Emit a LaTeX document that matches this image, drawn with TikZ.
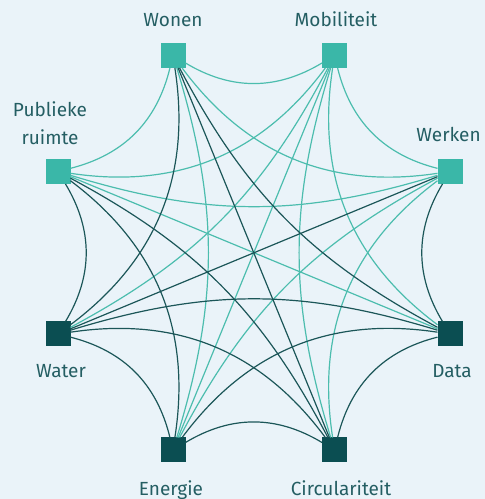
\documentclass[tikz,border=0pt]{standalone}
\usepackage{fontspec}
\setmainfont{Fira Sans}
\definecolor{bgcol}{HTML}{EAF3F9}
\definecolor{lightnode}{HTML}{3AB7A8}
\definecolor{darknode}{HTML}{0B4E52}
\definecolor{lightedge}{HTML}{4CBDAE}
\definecolor{darkedge}{HTML}{1B5658}
\definecolor{labelcol}{HTML}{245E63}
\begin{document}
\begin{tikzpicture}[x=1pt,y=1pt,
  box/.style={minimum size=25pt, inner sep=0pt, outer sep=0pt},
  topbox/.style={box, fill=lightnode},
  botbox/.style={box, fill=darknode},
  lbl/.style={text=labelcol, font=\fontsize{19}{28}\selectfont, anchor=base, inner sep=0pt},
  le/.style={draw=lightedge, line width=1.2pt},
  de/.style={draw=darkedge, line width=1.2pt},
  one/.style={bend right=31},
  three/.style={bend right=17}]
\fill[bgcol] (0,0) rectangle (485,499);
\useasboundingbox (0,0) rectangle (485,499);
% nodes
\node[topbox] (W) at (173,443.5) {};
\node[topbox] (M) at (334.5,443.5) {};
\node[topbox] (K) at (450,327.5) {};
\node[botbox] (D) at (450,165) {};
\node[botbox] (C) at (334.5,49) {};
\node[botbox] (E) at (173,49) {};
\node[botbox] (A) at (58,165) {};
\node[topbox] (P) at (58,327.5) {};
% light edges
\draw[le] (W) to[one] (M);
\draw[le] (M) to[one] (K);
\draw[le] (P) to[one] (W);
\draw[le] (W) to[one] (K);
\draw[le] (M) to[one] (D);
\draw[le] (K) to[one] (C);
\draw[le] (P) to[one] (M);
\draw[le] (M) to[three] (C);
\draw[le] (K) to[three] (E);
\draw[le] (E) to[three] (W);
\draw[le] (A) to[three] (M);
\draw[le] (P) to[three] (K);
\draw[le] (M) -- (E);
\draw[le] (D) -- (P);
% dark edges
\draw[de] (K) to[one] (D);
\draw[de] (D) to[one] (C);
\draw[de] (C) to[one] (E);
\draw[de] (E) to[one] (A);
\draw[de] (A) to[one] (P);
\draw[de] (D) to[one] (E);
\draw[de] (C) to[one] (A);
\draw[de] (E) to[one] (P);
\draw[de] (A) to[one] (W);
\draw[de] (W) to[three] (D);
\draw[de] (D) to[three] (A);
\draw[de] (C) to[three] (P);
\draw[de] (W) -- (C);
\draw[de] (K) -- (A);
% labels
\node[lbl] (lW) at (173,472.3) {Wonen};
\node[lbl] (lM) at (336,472.3) {Mobiliteit};
\node[lbl] (lK) at (448.5,357) {Werken};
\node[lbl] (lP1) at (50,382.3) {Publieke};
\node[lbl] (lP2) at (50,354) {ruimte};
\node[lbl] (lA) at (61,121) {Water};
\node[lbl] (lD) at (452,121) {Data};
\node[lbl] (lE) at (171,4) {Energie};
\node[lbl] (lC) at (341,4) {Circulariteit};
\end{tikzpicture}
\end{document}
